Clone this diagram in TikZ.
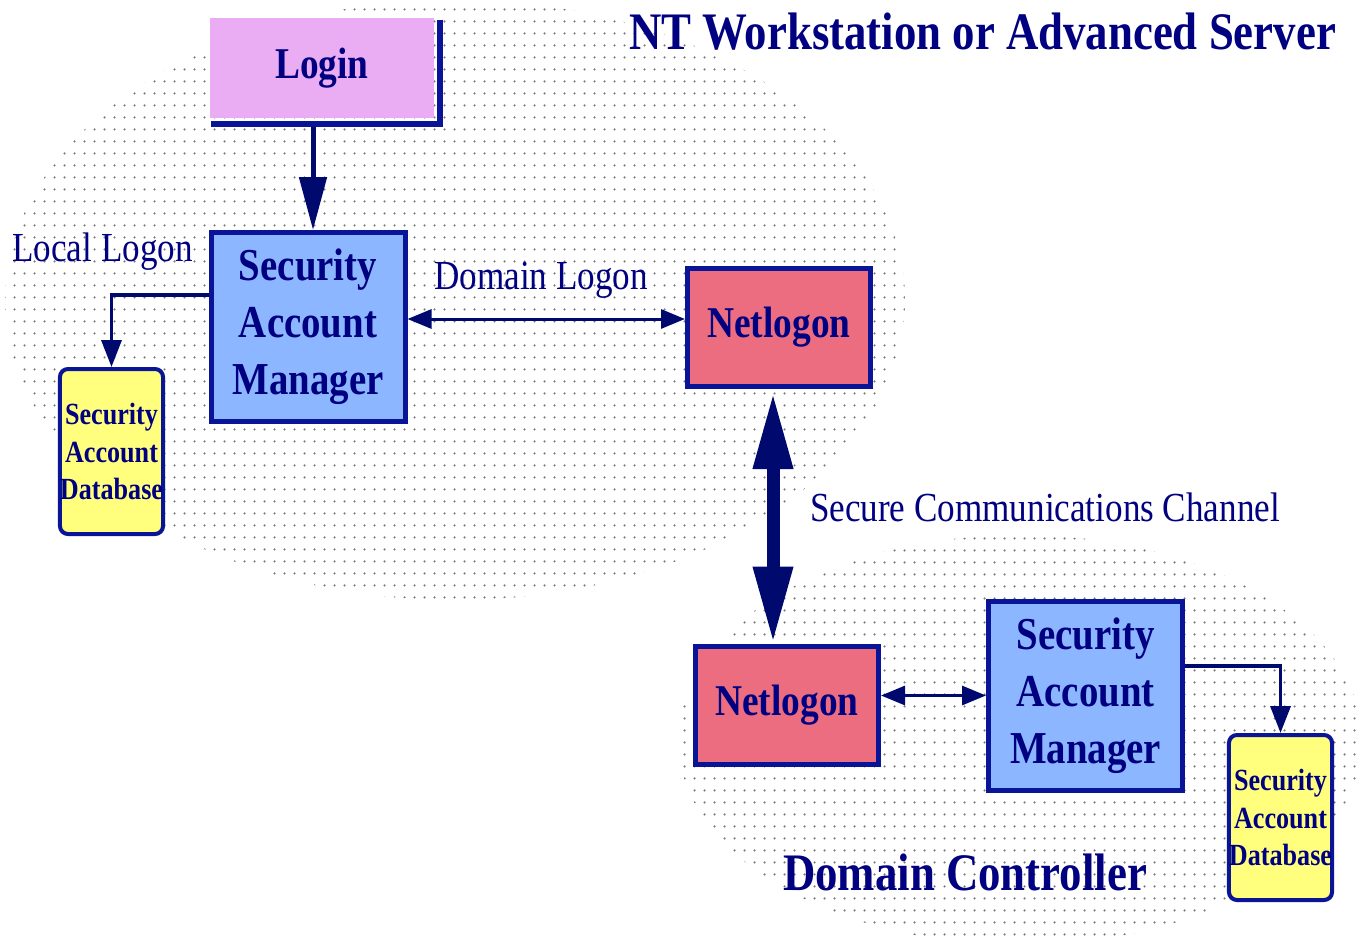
\documentclass[tikz,border=0pt]{standalone}
\usepackage{fontspec}
\setmainfont{Liberation Serif}[FakeStretch=0.85]
\usetikzlibrary{arrows.meta,positioning,calc,patterns}
\definecolor{ink}{RGB}{0,0,128}
\definecolor{edge}{RGB}{10,20,150}
\definecolor{wire}{RGB}{0,10,110}
\definecolor{dotgrey}{RGB}{120,120,120}
\definecolor{loginfill}{RGB}{234,172,242}
\definecolor{samfill}{RGB}{140,182,255}
\definecolor{netfill}{RGB}{236,108,128}
\definecolor{dbfill}{RGB}{255,255,125}
\pgfdeclarepatternformonly{greydots}{\pgfpointorigin}{\pgfpoint{2mm}{2.4mm}}{\pgfpoint{2mm}{2.4mm}}{\pgfpathcircle{\pgfpoint{1mm}{1.2mm}}{0.75pt}\pgfusepath{fill}}
\tikzset{
  every picture/.style={line width=0.6pt},
  box/.style={draw=edge, line width=1mm, inner sep=0pt, align=center, text=ink, font=\bfseries\fontsize{25}{32}\selectfont},
  sam/.style={box, fill=samfill, minimum width=38.8mm, minimum height=37.8mm, font=\bfseries\fontsize{26}{32.4}\selectfont},
  netlogon/.style={box, fill=netfill, minimum width=36.6mm, minimum height=23.6mm},
  db/.style={box, fill=dbfill, rounded corners=1.6mm, line width=0.8mm, minimum width=20mm, minimum height=33mm, font=\bfseries\fontsize{17.5}{21.6}\selectfont},
  zone/.style={pattern=greydots, pattern color=dotgrey},
  title/.style={text=ink, inner sep=0pt, font=\bfseries\fontsize{30}{36}\selectfont},
  lbl/.style={text=ink, inner sep=0pt, font=\fontsize{23.5}{28}\selectfont},
  feed/.style={draw=wire, line width=1mm, -{Triangle[length=10.6mm,width=5.4mm]}},
  thin/.style={draw=wire, line width=0.7mm, -{Triangle[length=5.4mm,width=4mm]}},
  both/.style={draw=wire, line width=0.6mm, {Triangle[length=4.8mm,width=3.8mm]}-{Triangle[length=4.8mm,width=3.8mm]}},
  channel/.style={draw=wire, line width=2.6mm, {Triangle[length=15.4mm,width=7.4mm]}-{Triangle[length=15.4mm,width=7.4mm]}},
}

\begin{document}
\begin{tikzpicture}
  % workstation on top, domain controller below, each on its own dotted ground
  \useasboundingbox (0,0) rectangle (273.4mm,-190.2mm);
  \fill[zone] (91mm,-60mm) ellipse [x radius=90mm, y radius=60mm];
  \fill[zone] (204mm,-148mm) ellipse [x radius=68.4mm, y radius=41mm];
  \node[title] (ws) at (196.5mm,-6.4mm) {NT Workstation or Advanced Server};
  \node[title] (dc) at (193mm,-174.4mm) {Domain Controller};
  \node[box, draw=none, fill=loginfill, minimum width=44.8mm, minimum height=20mm] (login) at (64.4mm,-13.6mm) {Login};
  \draw[edge, line width=1.2mm] ([xshift=0.6mm,yshift=-0.8mm]login.north east) -- ([xshift=0.6mm,yshift=-0.6mm]login.south east) -- ([xshift=0.6mm,yshift=-0.6mm]login.south west);
  \node[sam] (sam1) at (61.6mm,-65.4mm) {Security\\Account\\Manager};
  \node[db] (db1) at (22.3mm,-90.3mm) {Security\\Account\\Database};
  \node[netlogon] (nl1) at (155.8mm,-65.5mm) {Netlogon};
  \node[netlogon] (nl2) at (157.4mm,-141mm) {Netlogon};
  \node[sam] (sam2) at (217.1mm,-139.1mm) {Security\\Account\\Manager};
  \node[db] (db2) at (256.1mm,-163.5mm) {Security\\Account\\Database};
  \node[lbl] (local) at (20.5mm,-50.4mm) {Local Logon};
  \node[lbl] (domain) at (108.2mm,-56mm) {Domain Logon};
  \node[lbl] (secure) at (209mm,-101.4mm) {Secure Communications Channel};
  \draw[feed] ([xshift=-1.8mm,yshift=-1.2mm]login.south) -- ([xshift=-1.8mm]login.south |- sam1.north);
  \draw[thin] ([yshift=6.4mm]sam1.west) -| (db1.north);
  \draw[both] ([yshift=1.6mm]sam1.east) -- ([yshift=1.6mm]sam1.east -| nl1.west);
  \draw[channel, shorten <=0.6mm] ([xshift=-1.2mm]nl1.south) -- ([xshift=-1.2mm]nl1.south |- nl2.north);
  \draw[both] (nl2.east |- sam2.west) -- (sam2.west);
  \draw[thin] ([yshift=5.9mm]sam2.east) -| (db2.north);
\end{tikzpicture}
\end{document}
